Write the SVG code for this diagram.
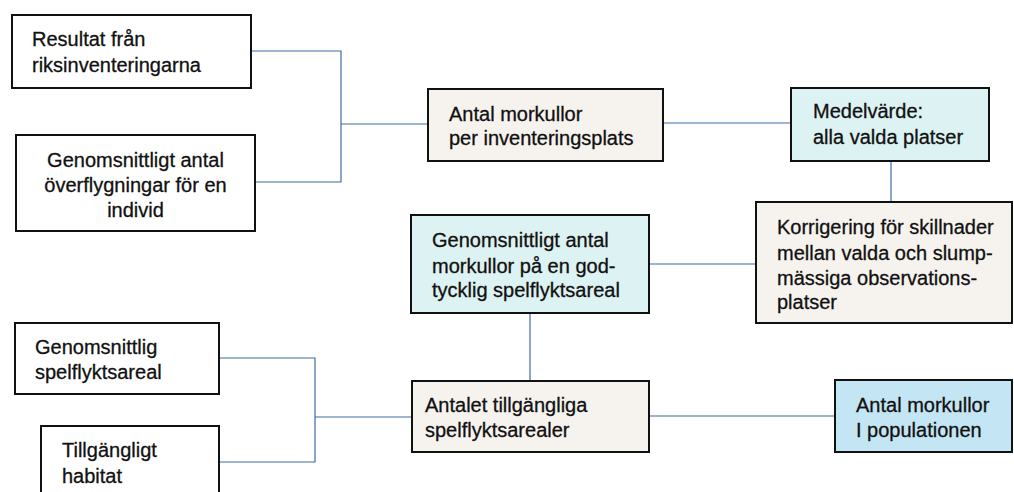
<svg xmlns="http://www.w3.org/2000/svg" width="1014" height="492" viewBox="0 0 1014 492">
<style>
.box{stroke:#111;stroke-width:2}
.w{fill:#fff}
.g{fill:#f6f3ef}
.c{fill:#ddf2f2}
.b{fill:#c4e5f4}
text{font-family:"Liberation Sans",Arial,sans-serif;font-size:20px;fill:#111;stroke:#111;stroke-width:0.3}
.mid{text-anchor:middle}
.con{stroke:#3f6aa8;stroke-width:1.2;fill:none}
</style>
<rect width="1014" height="492" fill="#fff"/>
<g id="connectors">
<polyline class="con" points="251,51 341,51 341,182 255,182"/>
<line class="con" x1="341" y1="124" x2="428" y2="124"/>
<line class="con" x1="663" y1="123" x2="791" y2="123"/>
<line class="con" x1="891" y1="161" x2="891" y2="202"/>
<line class="con" x1="649" y1="264" x2="756" y2="264"/>
<line class="con" x1="530" y1="313" x2="530" y2="381"/>
<polyline class="con" points="219,358 315,358 315,462 219,462"/>
<line class="con" x1="315" y1="417" x2="412" y2="417"/>
<line class="con" x1="649" y1="416" x2="835" y2="416"/>
</g>
<g id="n1">
<rect class="box w" x="12" y="15" width="239" height="73"/>
<text x="32" y="46">Resultat från</text>
<text x="32" y="72">riksinventeringarna</text>
</g>
<g id="n2">
<rect class="box w" x="16" y="135" width="239" height="96"/>
<text class="mid" x="135.5" y="167">Genomsnittligt antal</text>
<text class="mid" x="135.5" y="192">överflygningar för en</text>
<text class="mid" x="135.5" y="217">individ</text>
</g>
<g id="n3">
<rect class="box g" x="428" y="89" width="235" height="72"/>
<text x="449" y="121">Antal morkullor</text>
<text x="449" y="145">per inventeringsplats</text>
</g>
<g id="n4">
<rect class="box c" x="791" y="88" width="198" height="73"/>
<text x="813" y="118">Medelvärde:</text>
<text x="813" y="144">alla valda platser</text>
</g>
<g id="n5">
<rect class="box g" x="756" y="202" width="256" height="121"/>
<text x="777" y="234">Korrigering för skillnader</text>
<text x="777" y="260">mellan valda och slump-</text>
<text x="777" y="285">mässiga observations-</text>
<text x="777" y="309">platser</text>
</g>
<g id="n6">
<rect class="box c" x="411" y="215" width="238" height="98"/>
<text x="432" y="247">Genomsnittligt antal</text>
<text x="432" y="273">morkullor på en god-</text>
<text x="432" y="297">tycklig spelflyktsareal</text>
</g>
<g id="n7">
<rect class="box w" x="15" y="323" width="204" height="71"/>
<text x="35" y="354">Genomsnittlig</text>
<text x="35" y="379">spelflyktsareal</text>
</g>
<g id="n8">
<rect class="box w" x="41" y="426" width="178" height="80"/>
<text x="62" y="457">Tillgängligt</text>
<text x="62" y="483">habitat</text>
</g>
<g id="n9">
<rect class="box g" x="412" y="381" width="237" height="71"/>
<text x="425" y="412">Antalet tillgängliga</text>
<text x="425" y="437">spelflyktsarealer</text>
</g>
<g id="n10">
<rect class="box b" x="835" y="380" width="177" height="72"/>
<text x="856" y="412">Antal morkullor</text>
<text x="856" y="437">I populationen</text>
</g>
</svg>
